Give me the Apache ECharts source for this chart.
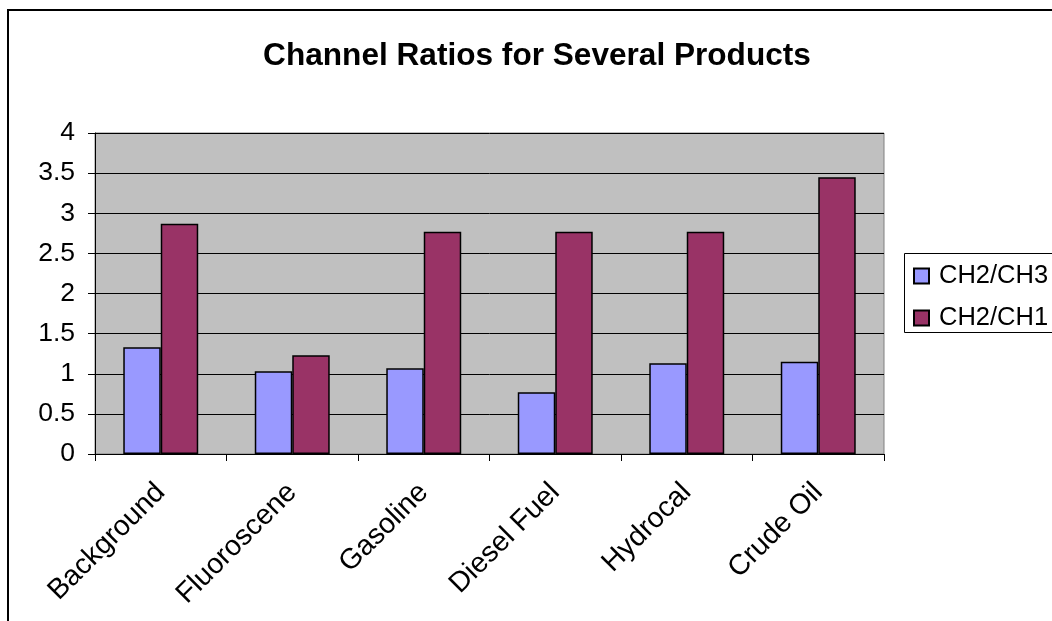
<!DOCTYPE html>
<html>
<head>
<meta charset="utf-8">
<title>Channel Ratios for Several Products</title>
<script src="https://cdn.jsdelivr.net/npm/echarts@6/dist/echarts.min.js"></script>
<style>
  html, body { margin: 0; padding: 0; background: #ffffff; }
  #chart { width: 1052px; height: 621px; }
</style>
</head>
<body>
<div id="chart"></div>
<script>
// Products measured and their channel ratios
const products = ['Background', 'Fluoroscene', 'Gasoline', 'Diesel Fuel', 'Hydrocal', 'Crude Oil'];
const ratioCh2Ch3 = [1.33, 1.03, 1.07, 0.77, 1.13, 1.15];
const ratioCh2Ch1 = [2.87, 1.23, 2.77, 2.77, 2.77, 3.45];
const seriesNames = ['CH2/CH3', 'CH2/CH1'];

const FONT = "'Liberation Sans', Arial, Helvetica, sans-serif";

const chart = echarts.init(document.getElementById('chart'), null, { renderer: 'canvas' });

chart.setOption({
  animation: false,
  backgroundColor: '#ffffff',
  title: {
    text: 'Channel Ratios for Several Products',
    left: 532,
    top: 35,
    textAlign: 'center',
    textStyle: { fontFamily: FONT, fontSize: 31.6, fontWeight: 'bold', color: '#000' }
  },
  graphic: [
    {
      // outer chart frame, running past the right and bottom edges
      type: 'rect',
      z: -1,
      shape: { x: 8, y: 10, width: 1200, height: 800 },
      style: { fill: 'none', stroke: '#000', lineWidth: 2 }
    },
    {
      // legend frame, also running past the right edge
      type: 'rect',
      z: 1,
      shape: { x: 904.5, y: 253.5, width: 200, height: 79 },
      style: { fill: '#fff', stroke: '#000', lineWidth: 1 }
    }
  ],
  legend: {
    orient: 'vertical',
    left: 904,
    top: 253,
    z: 5,
    padding: [8, 20, 0, 9],
    itemGap: 12,
    itemWidth: 15,
    itemHeight: 15,
    icon: 'rect',
    borderWidth: 0,
    textStyle: { fontFamily: FONT, fontSize: 25.5, color: '#000', lineHeight: 30, padding: [0, 0, 0, 5] },
    data: seriesNames
  },
  grid: {
    left: 95,
    right: 168,
    top: 133,
    bottom: 167,
    show: true,
    backgroundColor: '#C0C0C0',
    borderColor: '#808080',
    borderWidth: 1,
    containLabel: false
  },
  xAxis: {
    type: 'category',
    data: products,
    boundaryGap: true,
    axisLine: { show: true, lineStyle: { color: '#000', width: 1 } },
    axisTick: { show: true, length: 7, alignWithLabel: false, lineStyle: { color: '#000' } },
    axisLabel: {
      rotate: 45,
      margin: 34,
      interval: 0,
      fontFamily: FONT,
      fontSize: 28.5,
      color: '#000'
    },
    splitLine: { show: false }
  },
  yAxis: {
    type: 'value',
    min: 0,
    max: 4,
    interval: 0.5,
    axisLine: { show: true, lineStyle: { color: '#000', width: 1 } },
    axisTick: { show: true, length: 7, lineStyle: { color: '#000' } },
    axisLabel: {
      margin: 20,
      fontFamily: FONT,
      fontSize: 26.5,
      color: '#000'
    },
    splitLine: { show: true, lineStyle: { color: '#000', width: 1 } }
  },
  series: [
    {
      name: seriesNames[0],
      type: 'bar',
      data: ratioCh2Ch3,
      barGap: '0%',
      barCategoryGap: '43%',
      itemStyle: { color: '#9999FF', borderColor: '#000', borderWidth: 1.5 }
    },
    {
      name: seriesNames[1],
      type: 'bar',
      data: ratioCh2Ch1,
      barGap: '0%',
      barCategoryGap: '43%',
      itemStyle: { color: '#993366', borderColor: '#000', borderWidth: 1.5 }
    }
  ]
});
</script>
</body>
</html>
